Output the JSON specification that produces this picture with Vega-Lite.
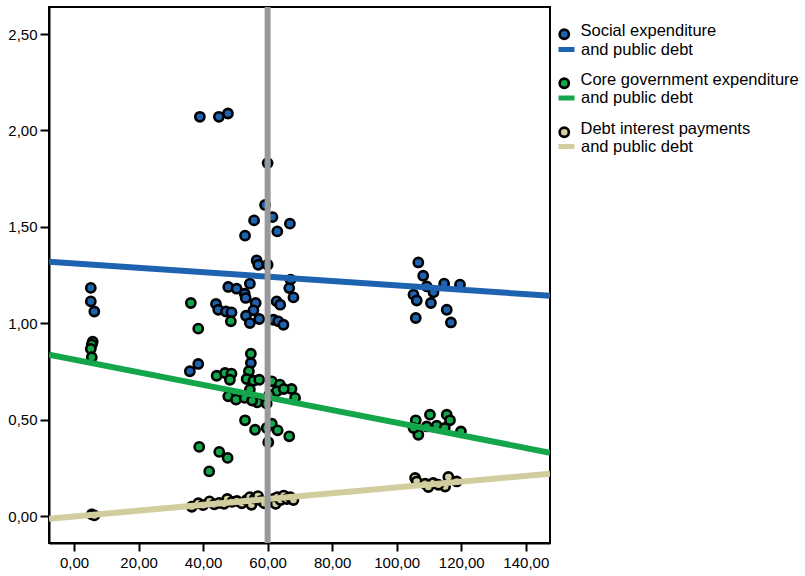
{
  "$schema": "https://vega.github.io/schema/vega-lite/v6.json",
  "width": 501,
  "height": 536,
  "autosize": {"type": "none"},
  "padding": {"left": 49, "top": 7, "right": 255, "bottom": 33},
  "background": "white",
  "config": {
    "view": {"stroke": "#000", "strokeWidth": 2},
    "font": "Liberation Sans"
  },
  "datasets": {
    "points": [
      {"series": "Social expenditure", "debt": 39.0, "ratio": 2.071},
      {"series": "Social expenditure", "debt": 44.9, "ratio": 2.071},
      {"series": "Social expenditure", "debt": 47.7, "ratio": 2.088},
      {"series": "Social expenditure", "debt": 60.0, "ratio": 1.831},
      {"series": "Social expenditure", "debt": 59.2, "ratio": 1.614},
      {"series": "Social expenditure", "debt": 61.5, "ratio": 1.551},
      {"series": "Social expenditure", "debt": 55.8, "ratio": 1.534},
      {"series": "Social expenditure", "debt": 66.9, "ratio": 1.517},
      {"series": "Social expenditure", "debt": 63.0, "ratio": 1.477},
      {"series": "Social expenditure", "debt": 53.0, "ratio": 1.455},
      {"series": "Social expenditure", "debt": 56.6, "ratio": 1.327},
      {"series": "Social expenditure", "debt": 57.1, "ratio": 1.304},
      {"series": "Social expenditure", "debt": 60.0, "ratio": 1.304},
      {"series": "Social expenditure", "debt": 67.1, "ratio": 1.227},
      {"series": "Social expenditure", "debt": 66.7, "ratio": 1.183},
      {"series": "Social expenditure", "debt": 68.0, "ratio": 1.135},
      {"series": "Social expenditure", "debt": 54.5, "ratio": 1.206},
      {"series": "Social expenditure", "debt": 47.8, "ratio": 1.189},
      {"series": "Social expenditure", "debt": 50.4, "ratio": 1.180},
      {"series": "Social expenditure", "debt": 52.9, "ratio": 1.154},
      {"series": "Social expenditure", "debt": 53.2, "ratio": 1.132},
      {"series": "Social expenditure", "debt": 56.3, "ratio": 1.106},
      {"series": "Social expenditure", "debt": 62.8, "ratio": 1.114},
      {"series": "Social expenditure", "debt": 63.9, "ratio": 1.097},
      {"series": "Social expenditure", "debt": 44.0, "ratio": 1.101},
      {"series": "Social expenditure", "debt": 44.7, "ratio": 1.071},
      {"series": "Social expenditure", "debt": 47.1, "ratio": 1.062},
      {"series": "Social expenditure", "debt": 48.8, "ratio": 1.057},
      {"series": "Social expenditure", "debt": 55.6, "ratio": 1.068},
      {"series": "Social expenditure", "debt": 53.3, "ratio": 1.040},
      {"series": "Social expenditure", "debt": 54.5, "ratio": 1.002},
      {"series": "Social expenditure", "debt": 57.4, "ratio": 1.023},
      {"series": "Social expenditure", "debt": 61.8, "ratio": 1.019},
      {"series": "Social expenditure", "debt": 63.3, "ratio": 1.011},
      {"series": "Social expenditure", "debt": 64.9, "ratio": 0.993},
      {"series": "Social expenditure", "debt": 54.8, "ratio": 0.795},
      {"series": "Social expenditure", "debt": 38.5, "ratio": 0.790},
      {"series": "Social expenditure", "debt": 35.9, "ratio": 0.752},
      {"series": "Social expenditure", "debt": 5.2, "ratio": 1.184},
      {"series": "Social expenditure", "debt": 5.2, "ratio": 1.114},
      {"series": "Social expenditure", "debt": 6.3, "ratio": 1.062},
      {"series": "Social expenditure", "debt": 106.7, "ratio": 1.316},
      {"series": "Social expenditure", "debt": 108.2, "ratio": 1.247},
      {"series": "Social expenditure", "debt": 109.3, "ratio": 1.192},
      {"series": "Social expenditure", "debt": 114.7, "ratio": 1.206},
      {"series": "Social expenditure", "debt": 119.6, "ratio": 1.201},
      {"series": "Social expenditure", "debt": 111.4, "ratio": 1.161},
      {"series": "Social expenditure", "debt": 105.2, "ratio": 1.149},
      {"series": "Social expenditure", "debt": 106.2, "ratio": 1.119},
      {"series": "Social expenditure", "debt": 110.6, "ratio": 1.106},
      {"series": "Social expenditure", "debt": 115.5, "ratio": 1.071},
      {"series": "Social expenditure", "debt": 105.9, "ratio": 1.028},
      {"series": "Social expenditure", "debt": 116.8, "ratio": 1.005},

      {"series": "Core government expenditure", "debt": 5.8, "ratio": 0.905},
      {"series": "Core government expenditure", "debt": 5.5, "ratio": 0.890},
      {"series": "Core government expenditure", "debt": 5.2, "ratio": 0.868},
      {"series": "Core government expenditure", "debt": 5.5, "ratio": 0.825},
      {"series": "Core government expenditure", "debt": 36.2, "ratio": 1.106},
      {"series": "Core government expenditure", "debt": 48.6, "ratio": 1.011},
      {"series": "Core government expenditure", "debt": 38.5, "ratio": 0.973},
      {"series": "Core government expenditure", "debt": 54.8, "ratio": 0.843},
      {"series": "Core government expenditure", "debt": 44.2, "ratio": 0.729},
      {"series": "Core government expenditure", "debt": 46.8, "ratio": 0.743},
      {"series": "Core government expenditure", "debt": 48.8, "ratio": 0.740},
      {"series": "Core government expenditure", "debt": 48.3, "ratio": 0.708},
      {"series": "Core government expenditure", "debt": 54.2, "ratio": 0.752},
      {"series": "Core government expenditure", "debt": 53.5, "ratio": 0.712},
      {"series": "Core government expenditure", "debt": 55.6, "ratio": 0.703},
      {"series": "Core government expenditure", "debt": 57.4, "ratio": 0.708},
      {"series": "Core government expenditure", "debt": 61.3, "ratio": 0.700},
      {"series": "Core government expenditure", "debt": 63.8, "ratio": 0.683},
      {"series": "Core government expenditure", "debt": 62.8, "ratio": 0.648},
      {"series": "Core government expenditure", "debt": 67.4, "ratio": 0.660},
      {"series": "Core government expenditure", "debt": 68.5, "ratio": 0.614},
      {"series": "Core government expenditure", "debt": 54.5, "ratio": 0.657},
      {"series": "Core government expenditure", "debt": 47.8, "ratio": 0.622},
      {"series": "Core government expenditure", "debt": 50.2, "ratio": 0.605},
      {"series": "Core government expenditure", "debt": 52.9, "ratio": 0.614},
      {"series": "Core government expenditure", "debt": 56.8, "ratio": 0.591},
      {"series": "Core government expenditure", "debt": 59.7, "ratio": 0.584},
      {"series": "Core government expenditure", "debt": 55.2, "ratio": 0.600},
      {"series": "Core government expenditure", "debt": 60.5, "ratio": 0.630},
      {"series": "Core government expenditure", "debt": 65.0, "ratio": 0.660},
      {"series": "Core government expenditure", "debt": 53.0, "ratio": 0.498},
      {"series": "Core government expenditure", "debt": 56.1, "ratio": 0.449},
      {"series": "Core government expenditure", "debt": 59.7, "ratio": 0.458},
      {"series": "Core government expenditure", "debt": 61.3, "ratio": 0.480},
      {"series": "Core government expenditure", "debt": 63.1, "ratio": 0.446},
      {"series": "Core government expenditure", "debt": 66.7, "ratio": 0.415},
      {"series": "Core government expenditure", "debt": 60.2, "ratio": 0.384},
      {"series": "Core government expenditure", "debt": 38.8, "ratio": 0.360},
      {"series": "Core government expenditure", "debt": 45.0, "ratio": 0.334},
      {"series": "Core government expenditure", "debt": 47.6, "ratio": 0.303},
      {"series": "Core government expenditure", "debt": 41.9, "ratio": 0.233},
      {"series": "Core government expenditure", "debt": 105.9, "ratio": 0.498},
      {"series": "Core government expenditure", "debt": 110.3, "ratio": 0.527},
      {"series": "Core government expenditure", "debt": 115.5, "ratio": 0.527},
      {"series": "Core government expenditure", "debt": 116.5, "ratio": 0.498},
      {"series": "Core government expenditure", "debt": 106.7, "ratio": 0.423},
      {"series": "Core government expenditure", "debt": 105.2, "ratio": 0.458},
      {"series": "Core government expenditure", "debt": 112.4, "ratio": 0.470},
      {"series": "Core government expenditure", "debt": 109.3, "ratio": 0.466},
      {"series": "Core government expenditure", "debt": 119.9, "ratio": 0.440},
      {"series": "Core government expenditure", "debt": 114.9, "ratio": 0.458},

      {"series": "Debt interest payments", "debt": 5.5, "ratio": 0.010},
      {"series": "Debt interest payments", "debt": 6.3, "ratio": 0.005},
      {"series": "Debt interest payments", "debt": 36.5, "ratio": 0.050},
      {"series": "Debt interest payments", "debt": 38.5, "ratio": 0.068},
      {"series": "Debt interest payments", "debt": 40.0, "ratio": 0.058},
      {"series": "Debt interest payments", "debt": 42.0, "ratio": 0.078},
      {"series": "Debt interest payments", "debt": 43.5, "ratio": 0.062},
      {"series": "Debt interest payments", "debt": 45.0, "ratio": 0.070},
      {"series": "Debt interest payments", "debt": 46.5, "ratio": 0.065},
      {"series": "Debt interest payments", "debt": 47.5, "ratio": 0.090},
      {"series": "Debt interest payments", "debt": 49.0, "ratio": 0.075},
      {"series": "Debt interest payments", "debt": 50.5, "ratio": 0.080},
      {"series": "Debt interest payments", "debt": 52.0, "ratio": 0.068},
      {"series": "Debt interest payments", "debt": 53.5, "ratio": 0.085},
      {"series": "Debt interest payments", "debt": 54.5, "ratio": 0.100},
      {"series": "Debt interest payments", "debt": 55.0, "ratio": 0.060},
      {"series": "Debt interest payments", "debt": 56.0, "ratio": 0.092},
      {"series": "Debt interest payments", "debt": 57.0, "ratio": 0.105},
      {"series": "Debt interest payments", "debt": 58.0, "ratio": 0.080},
      {"series": "Debt interest payments", "debt": 59.0, "ratio": 0.068},
      {"series": "Debt interest payments", "debt": 61.0, "ratio": 0.078},
      {"series": "Debt interest payments", "debt": 62.0, "ratio": 0.092},
      {"series": "Debt interest payments", "debt": 62.5, "ratio": 0.065},
      {"series": "Debt interest payments", "debt": 63.0, "ratio": 0.100},
      {"series": "Debt interest payments", "debt": 64.0, "ratio": 0.085},
      {"series": "Debt interest payments", "debt": 65.0, "ratio": 0.108},
      {"series": "Debt interest payments", "debt": 66.0, "ratio": 0.090},
      {"series": "Debt interest payments", "debt": 67.0, "ratio": 0.100},
      {"series": "Debt interest payments", "debt": 68.0, "ratio": 0.085},
      {"series": "Debt interest payments", "debt": 105.7, "ratio": 0.199},
      {"series": "Debt interest payments", "debt": 106.2, "ratio": 0.181},
      {"series": "Debt interest payments", "debt": 108.8, "ratio": 0.169},
      {"series": "Debt interest payments", "debt": 111.3, "ratio": 0.173},
      {"series": "Debt interest payments", "debt": 116.0, "ratio": 0.204},
      {"series": "Debt interest payments", "debt": 118.6, "ratio": 0.181},
      {"series": "Debt interest payments", "debt": 115.0, "ratio": 0.155},
      {"series": "Debt interest payments", "debt": 109.8, "ratio": 0.152},
      {"series": "Debt interest payments", "debt": 112.9, "ratio": 0.164}
    ],
    "fits": [
      {"fit": "Social expenditure and public debt", "debt": -7.75, "ratio": 1.320},
      {"fit": "Social expenditure and public debt", "debt": 147.5, "ratio": 1.143},
      {"fit": "Core government expenditure and public debt", "debt": -7.75, "ratio": 0.838},
      {"fit": "Core government expenditure and public debt", "debt": 147.5, "ratio": 0.330},
      {"fit": "Debt interest payments and public debt", "debt": -7.75, "ratio": -0.012},
      {"fit": "Debt interest payments and public debt", "debt": 147.5, "ratio": 0.221}
    ],
    "reference": [{"debt": 60}]
  },
  "layer": [
    {
      "data": {"name": "points"},
      "mark": {"type": "point", "shape": "circle", "filled": true, "size": 85, "stroke": "#000", "strokeWidth": 2.6, "opacity": 1},
      "encoding": {
        "x": {
          "field": "debt", "type": "quantitative",
          "scale": {"domain": [-7.75, 147.5], "nice": false, "zero": false},
          "axis": {
            "values": [0, 20, 40, 60, 80, 100, 120, 140],
            "labelExpr": "replace(format(datum.value, '.2f'), '.', ',')",
            "title": null, "grid": false,
            "domainColor": "#000", "domainWidth": 2,
            "tickColor": "#000", "tickWidth": 2, "tickSize": 8,
            "labelFont": "Liberation Sans", "labelFontSize": 15, "labelColor": "#000", "labelPadding": 4
          }
        },
        "y": {
          "field": "ratio", "type": "quantitative",
          "scale": {"domain": [-0.138, 2.64], "nice": false, "zero": false},
          "axis": {
            "values": [0, 0.5, 1, 1.5, 2, 2.5],
            "labelExpr": "replace(format(datum.value, '.2f'), '.', ',')",
            "title": null, "grid": false,
            "domainColor": "#000", "domainWidth": 2,
            "tickColor": "#000", "tickWidth": 2, "tickSize": 9,
            "labelFont": "Liberation Sans", "labelFontSize": 15, "labelColor": "#000", "labelPadding": 3
          }
        },
        "fill": {
          "field": "series", "type": "nominal",
          "scale": {
            "domain": ["Social expenditure", "Core government expenditure", "Debt interest payments"],
            "range": ["#1e63b0", "#13a64b", "#d2cd9e"]
          },
          "legend": {
            "title": null, "orient": "none", "legendX": 507, "legendY": 19, "direction": "vertical", "padding": 0,
            "symbolType": "circle", "symbolSize": 85, "symbolStrokeColor": "#000", "symbolStrokeWidth": 2.6, "symbolOpacity": 1,
            "labelFont": "Liberation Sans", "labelFontSize": 16.5, "labelColor": "#000", "labelOffset": 8, "labelLimit": 400,
            "rowPadding": 27,
            "encode": {"labels": {"update": {"dy": {"value": -3}}}}
          }
        }
      }
    },
    {
      "data": {"name": "fits"},
      "mark": {"type": "line", "strokeWidth": 6, "strokeCap": "butt", "clip": true},
      "encoding": {
        "x": {"field": "debt", "type": "quantitative"},
        "y": {"field": "ratio", "type": "quantitative"},
        "stroke": {
          "field": "fit", "type": "nominal",
          "scale": {
            "domain": ["Social expenditure and public debt", "Core government expenditure and public debt", "Debt interest payments and public debt"],
            "range": ["#1e63b0", "#13a64b", "#d2cd9e"]
          },
          "legend": {
            "title": null, "orient": "none", "legendX": 507, "legendY": 32, "direction": "vertical", "padding": 0,
            "symbolType": "stroke", "symbolSize": 256, "symbolStrokeWidth": 5,
            "labelExpr": "'and public debt'",
            "labelFont": "Liberation Sans", "labelFontSize": 16.5, "labelColor": "#000", "labelOffset": 4, "labelLimit": 400,
            "rowPadding": 27.5
          }
        }
      }
    },
    {
      "data": {"name": "reference"},
      "mark": {"type": "rule", "color": "#98999b", "strokeWidth": 6},
      "encoding": {
        "x": {"field": "debt", "type": "quantitative"}
      }
    }
  ]
}
